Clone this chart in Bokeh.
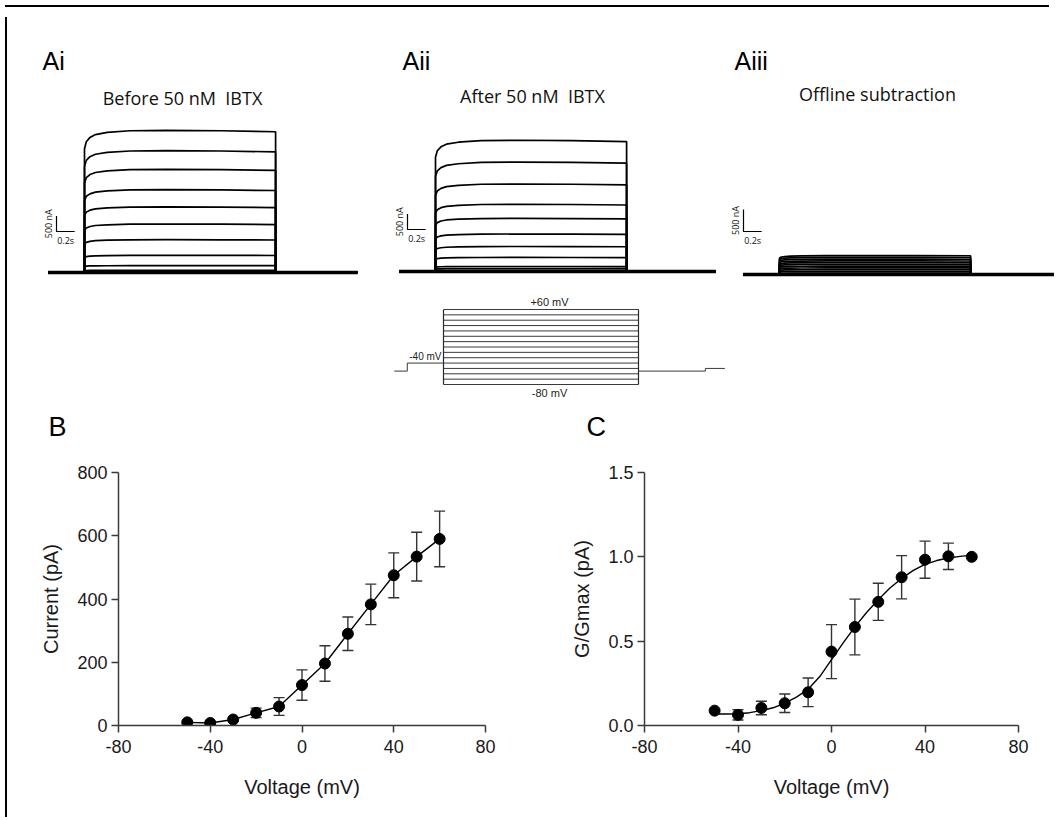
import numpy as np
from bokeh.plotting import figure
from bokeh.layouts import column, row
from bokeh.models import (Range1d, FixedTicker, ColumnDataSource, Whisker, TeeHead,
                          Div, CustomJSTickFormatter)
from bokeh.embed import file_html
from bokeh.resources import INLINE
from bokeh.core.properties import value

# ---------------- data ----------------
voltage_mv = [-50, -40, -30, -20, -10, 0, 10, 20, 30, 40, 50, 60]
current_pa = [10, 8, 19, 40, 60, 128, 196, 290, 383, 475, 534, 590]
current_sem = [3, 3, 5, 15, 28, 48, 56, 53, 64, 71, 77, 88]
g_gmax = [0.088, 0.063, 0.104, 0.132, 0.197, 0.438, 0.584, 0.733, 0.879, 0.983, 1.003, 1.0]
g_sem = [0.0, 0.03, 0.04, 0.055, 0.085, 0.16, 0.165, 0.11, 0.128, 0.11, 0.078, 0.0]
fit_mv = [-50, -45, -40, -35, -30, -25, -20, -15, -10, -5, 0, 5, 10, 15, 20, 25, 30,
          35, 40, 45, 50, 55, 60]
fit_g = [0.068, 0.068, 0.07, 0.076, 0.088, 0.105, 0.132, 0.168, 0.215, 0.29, 0.39, 0.49,
         0.585, 0.67, 0.745, 0.815, 0.872, 0.92, 0.955, 0.978, 0.993, 1.003, 1.01]
x_ticks = [-80, -40, 0, 40, 80]
current_ticks = [0, 200, 400, 600, 800]
g_ticks = [0.0, 0.5, 1.0, 1.5]

# current traces (nA, steady-state amplitude of each sweep)
amps_before_na = [4550, 3900, 3300, 2650, 2100, 1550, 1050, 550, 220, 70, 20, 0]
amps_after_na = [4200, 3500, 2800, 2150, 1700, 1200, 800, 450, 160, 90, 30, 0]
amps_sub_na = [430, 390, 350, 310, 270, 230, 190, 150, 110, 70, 30, 0]
rise_t_s = [0.0, 0.02, 0.06, 0.12, 0.25, 0.5, 0.9, 1.5, 2.1]
rise_frac = [0.87, 0.92, 0.95, 0.97, 0.985, 0.997, 1.0, 0.997, 0.99]
pulse_s = 2.1
pre_s = -0.4
scalebar_na = 500
scalebar_s = 0.2

# voltage protocol
step_mv = [-80, -70, -60, -50, -40, -30, -20, -10, 0, 10, 20, 30, 40, 50, 60]
hold_t_s = [-0.53, -0.39, -0.39, 0.0]
hold_mv = [-55, -55, -40, -40]
tail_t_s = [2.1, 2.82, 2.82, 3.03]
tail_mv = [-55, -55, -50, -50]

# ---------------- layout helpers ----------------
ROW1_TOP, ROW1_BOT = 10, 290
PX_PER_S = 91.0
FONT_ARIAL = "Liberation Sans"
FONT_MYRIAD = "Open Sans"
BASE_FIX = 0.45   # em; alphabetic-baseline correction observed in the svg output


def blank(width, height, xr, yr):
    p = figure(width=width, height=height, x_range=Range1d(*xr), y_range=Range1d(*yr),
               x_axis_location=None, y_axis_location=None, output_backend="svg",
               toolbar_location=None, min_border=0)
    p.grid.grid_line_color = None
    p.outline_line_color = None
    return p


def trace_panel(left, right, onset_px, base_px, na_per_px, amps, post_s, letter, letter_x,
                title, title_x, title_y, sb_page):
    x0 = (left - onset_px) / PX_PER_S
    x1 = (right - onset_px) / PX_PER_S
    y0 = (base_px - ROW1_BOT) * na_per_px
    y1 = (base_px - ROW1_TOP) * na_per_px
    p = blank(right - left, ROW1_BOT - ROW1_TOP, (x0, x1), (y0, y1))

    def tx(px):
        return (px - onset_px) / PX_PER_S

    def ty(py):
        return (base_px - py) * na_per_px

    xs, ys = [], []
    for a in amps:
        xs.append([pre_s, 0.0] + rise_t_s + [pulse_s, post_s])
        ys.append([0, 0] + [a * f for f in rise_frac] + [0, 0])
    p.multi_line(xs, ys, line_color="black", line_width=1.7)
    p.line([pre_s, post_s], [0, 0], line_color="black", line_width=3.5)

    p.text(x=[tx(letter_x)], y=[ty(70 - BASE_FIX * 25)], text=[letter],
           text_font=value(FONT_ARIAL), text_font_size="25px", text_baseline="alphabetic",
           text_align="left", text_color="black")
    p.text(x=[tx(title_x)], y=[ty(title_y - BASE_FIX * 18)], text=[title],
           text_font=value(FONT_MYRIAD), text_font_size="18px", text_baseline="alphabetic",
           text_align="center", text_color="#111111")

    sbx, sby = tx(sb_page[0]), ty(sb_page[1])
    p.line([sbx, sbx, sbx + scalebar_s], [sby + scalebar_na, sby, sby],
           line_color="black", line_width=1.2)
    p.text(x=[sbx - 2 / PX_PER_S], y=[sby + scalebar_na / 2], text=["500 nA"],
           angle=np.pi / 2, text_align="center", text_baseline="bottom",
           text_font=value(FONT_MYRIAD), text_font_size="9px", text_color="#111111")
    p.text(x=[sbx + scalebar_s / 2], y=[sby - 2 * na_per_px], text=["0.2s"],
           text_align="center", text_baseline="top",
           text_font=value(FONT_MYRIAD), text_font_size="9px", text_color="#111111")
    return p


pA1 = trace_panel(10, 380, 82, 270, 32.0, amps_before_na, 3.0, "Ai", 40,
                  "Before 50 nM\u00a0 IBTX", 180, 104, (54, 229))
pA2 = trace_panel(380, 725, 433, 269, 32.0, amps_after_na, 3.08, "Aii", 400,
                  "After 50 nM\u00a0 IBTX", 530, 102, (405, 227))
pA3 = trace_panel(725, 1052, 777, 272, 22.7, amps_sub_na, 3.1, "Aiii", 732,
                  "Offline subtraction", 875, 100, (741, 229))

# ---------------- voltage protocol (also carries the B / C panel letters) ----------------
P_TOP, P_BOT = 290, 445
P_ONSET = 441
P_PX_PER_S = 195 / 2.1
P_Y_M80 = 382
P_PX_PER_MV = 75 / 140


def pvx(px):
    return (px - P_ONSET) / P_PX_PER_S


def pvy(py):
    return -80 + (P_Y_M80 - py) / P_PX_PER_MV


pP = blank(1042, P_BOT - P_TOP, (pvx(10), pvx(1052)), (pvy(P_BOT), pvy(P_TOP)))
pP.multi_line([[0.0, pulse_s] for _ in step_mv], [[v, v] for v in step_mv],
              line_color="#3a3a3a", line_width=1)
pP.multi_line([[0.0, 0.0], [pulse_s, pulse_s]],
              [[step_mv[0], step_mv[-1]], [step_mv[0], step_mv[-1]]],
              line_color="#2a2a2a", line_width=1.2)
pP.line(hold_t_s, hold_mv, line_color="#3a3a3a", line_width=1)
pP.line(tail_t_s, tail_mv, line_color="#3a3a3a", line_width=1)
pP.text(x=[pvx(547)], y=[pvy(304 - BASE_FIX * 11)], text=["+60 mV"],
        text_align="center", text_baseline="alphabetic", text_font=value(FONT_ARIAL),
        text_font_size="11px", text_color="#222222")
pP.text(x=[pvx(547)], y=[pvy(395 - BASE_FIX * 11)], text=["-80 mV"],
        text_align="center", text_baseline="alphabetic", text_font=value(FONT_ARIAL),
        text_font_size="11px", text_color="#222222")
pP.text(x=[pvx(439)], y=[pvy(358 - BASE_FIX * 10)], text=["-40 mV"],
        text_align="right", text_baseline="alphabetic", text_font=value(FONT_ARIAL),
        text_font_size="10px", text_color="#222222")
pP.text(x=[pvx(46), pvx(584)], y=[pvy(437 - BASE_FIX * 27), pvy(437 - BASE_FIX * 27)],
        text=["B", "C"], text_align="left", text_baseline="alphabetic",
        text_font=value(FONT_ARIAL), text_font_size="27px", text_color="black")

# ---------------- I-V and G-V plots ----------------
ROW3_TOP, ROW3_BOT = P_BOT, 810


def style_axes(p, ylabel, yfmt):
    p.grid.grid_line_color = None
    p.outline_line_color = None
    p.xaxis.ticker = FixedTicker(ticks=x_ticks)
    p.xaxis.formatter = CustomJSTickFormatter(code="return tick.toFixed(0);")
    p.yaxis.formatter = CustomJSTickFormatter(code=yfmt)
    for ax in (p.xaxis[0], p.yaxis[0]):
        ax.axis_line_width = 1.5
        ax.axis_line_color = "#3a3a3a"
        ax.major_tick_line_color = "#3a3a3a"
        ax.major_tick_line_width = 1.5
        ax.major_tick_out = 7
        ax.major_tick_in = 0
        ax.minor_tick_line_color = None
        ax.major_label_text_font = FONT_ARIAL
        ax.major_label_text_font_size = "18px"
        ax.major_label_text_color = "#1a1a1a"
        ax.axis_label_text_font = FONT_ARIAL
        ax.axis_label_text_font_size = "20px"
        ax.axis_label_text_font_style = "normal"
        ax.axis_label_text_color = "#1a1a1a"
    p.xaxis.major_label_standoff = 7
    p.yaxis.major_label_standoff = 4
    p.xaxis.axis_label = "Voltage (mV)"
    p.yaxis.axis_label = ylabel
    p.xaxis.axis_label_standoff = 20
    p.yaxis.axis_label_standoff = 12


def iv_panel(page_left, width, frame, yr, yticks, yfmt, ylabel, ys, sem, lx, ly):
    fl, fr, ft, fb = frame
    p = figure(width=width, height=ROW3_BOT - ROW3_TOP, x_range=Range1d(-80, 80),
               y_range=Range1d(*yr), output_backend="svg", toolbar_location=None,
               min_border_left=fl - page_left, min_border_right=page_left + width - fr,
               min_border_top=ft - ROW3_TOP, min_border_bottom=ROW3_BOT - fb)
    style_axes(p, ylabel, yfmt)
    p.yaxis.ticker = FixedTicker(ticks=yticks)

    keep = [i for i, s in enumerate(sem) if s > 0]
    src = ColumnDataSource(dict(x=[voltage_mv[i] for i in keep],
                                upper=[ys[i] + sem[i] for i in keep],
                                lower=[ys[i] - sem[i] for i in keep]))
    w = Whisker(source=src, base="x", upper="upper", lower="lower",
                line_color="#333333", line_width=1.4,
                upper_head=TeeHead(size=11, line_color="#333333", line_width=1.4),
                lower_head=TeeHead(size=11, line_color="#333333", line_width=1.4))
    w.level = "underlay"
    p.add_layout(w)
    p.line(lx, ly, line_color="black", line_width=1.4)
    p.scatter(voltage_mv, ys, size=11, color="black")
    return p


pB = iv_panel(10, 530, (116, 483, 470, 726), (0, 800), current_ticks,
              "return tick.toFixed(0);", "Current (pA)", current_pa, current_sem,
              voltage_mv, current_pa)
pC = iv_panel(540, 512, (642, 1016, 469, 723), (0, 1.5), g_ticks,
              "return tick.toFixed(1);", "G/Gmax (pA)", g_gmax, g_sem,
              fit_mv, fit_g)

top_bar = Div(width=1044, height=2, styles={"background-color": "black"})
left_bar = Div(width=2, height=800, styles={"background-color": "black"})

content = column(row(pA1, pA2, pA3), pP, row(pB, pC))
root = column(top_bar, row(left_bar, content))

open("out.html", "w").write(file_html(root, INLINE))
